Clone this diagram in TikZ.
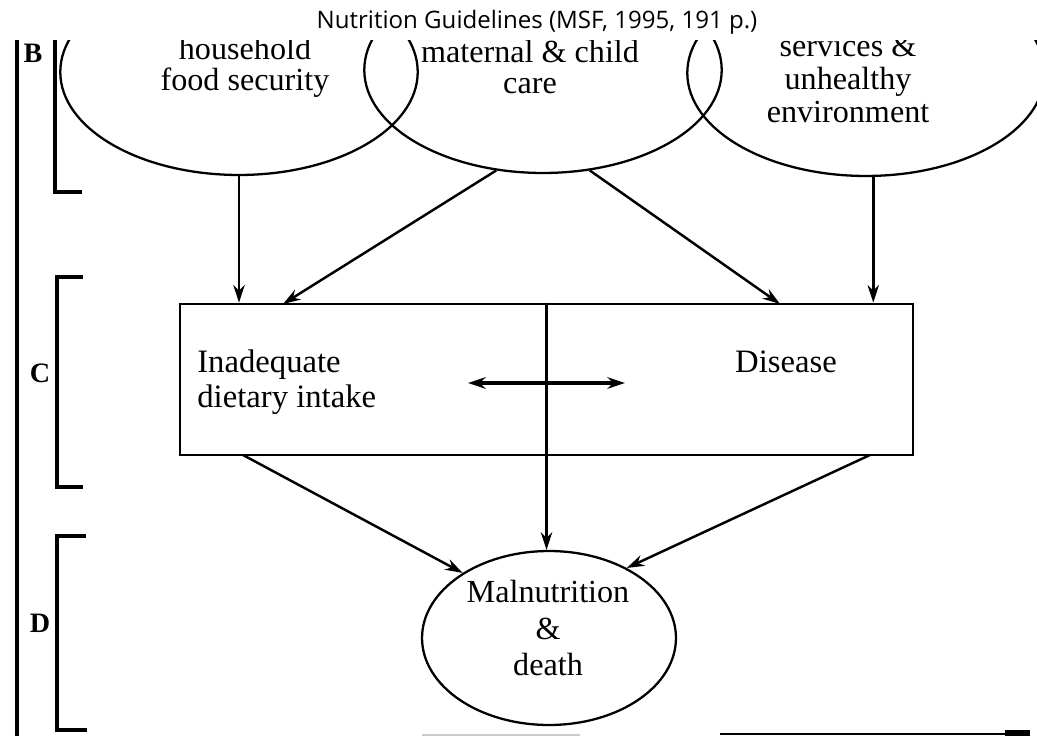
\documentclass[tikz,border=0pt]{standalone}
\usepackage{fontspec}
\setmainfont{Liberation Serif}
\newfontfamily\titlefont{Open Sans}
\usetikzlibrary{shapes.geometric,arrows.meta}

\begin{document}
\begin{tikzpicture}[x=0.02cm,y=-0.02cm]
  \tikzstyle{blob}=[ellipse,draw=black,line width=1.3pt,inner sep=0pt,minimum width=7.15cm,minimum height=4.12cm]
  \tikzstyle{lbl}=[inner sep=0pt,align=center,font=\fontsize{18.3}{17.6}\selectfont]
  \tikzstyle{arr}=[line width=1.4pt,-{Stealth[length=10pt,width=6.5pt]}]
  \tikzstyle{brk}=[line width=1.8pt]
  \useasboundingbox (0,0) rectangle (1037,736);
  \node[blob] (food) at (239,72) {};
  \node[blob] (care) at (543,70) {};
  \node[blob] (env) at (866,73) {};
  \node[lbl] (foodtxt) at (245,67) {household\\food security};
  \node[lbl] (caretxt) at (530,67) {maternal \& child\\care};
  \node[lbl,font=\fontsize{18.3}{18.7}\selectfont] (envtxt) at (848,79) {services \&\\unhealthy\\environment};
  \fill[white] (0,0) rectangle (1037,40);
  \node[inner sep=0pt,font=\titlefont\fontsize{13.7}{15}\selectfont] (title) at (537,22) {Nutrition Guidelines (MSF, 1995, 191 p.)};
  \node[draw,line width=1.6pt,inner sep=0pt,minimum width=14.66cm,minimum height=3.02cm] (box) at (546.5,379.5) {};
  \node[ellipse,draw,line width=1.3pt,inner sep=0pt,minimum width=5.08cm,minimum height=3.48cm] (mal) at (549,638) {};
  \node[lbl,align=left,anchor=west,font=\fontsize{18.6}{19.8}\selectfont] (inadtxt) at (197,382) {Inadequate\\dietary intake};
  \node[lbl,font=\fontsize{18.6}{19.8}\selectfont] (distxt) at (786,362) {Disease};
  \node[lbl,font=\fontsize{18.3}{21}\selectfont] (maltxt) at (548,628) {Malnutrition\\\&\\death};
  \coordinate (inL) at (283,304);
  \coordinate (inR) at (780,304);
  \coordinate (outL) at (243,455);
  \coordinate (outR) at (870,455);
  \coordinate (swL) at (468,383);
  \coordinate (swR) at (625,383);
  \draw[arr] (food.south) -- (food.south |- box.north);
  \draw[arr] (care.245) -- (inL);
  \draw[arr] (care.295) -- (inR);
  \draw[arr] (env.-86) -- (env.-86 |- box.north);
  \draw[arr,line width=1.8pt] (box.north) -- (box.north |- mal.north);
  \draw[arr] (outL) -- (mal.143);
  \draw[arr] (outR) -- (mal.42);
  \draw[arr,line width=1.8pt,{Stealth[length=10pt,width=6.5pt]}-{Stealth[length=10pt,width=6.5pt]}] (swL) -- (swR);
  \draw[brk] (17,40) -- (17,736);
  \draw[brk] (82,192) -- (55,192) -- (55,40);
  \draw[brk] (83,277) -- (57,277) -- (57,487) -- (83,487);
  \draw[brk] (86,536) -- (57,536) -- (57,730) -- (87,730);
  \node[font=\bfseries\fontsize{16}{16}\selectfont] (B) at (33,53) {B};
  \node[font=\bfseries\fontsize{16}{16}\selectfont] (C) at (40,373) {C};
  \node[font=\bfseries\fontsize{16}{16}\selectfont] (D) at (40,623) {D};
  \draw[gray!40,line width=0.8pt] (422,735) -- (580,735);
  \draw[line width=1pt] (720,734) -- (1005,734);
  \fill (1005,730) rectangle (1030,736);
\end{tikzpicture}
\end{document}
